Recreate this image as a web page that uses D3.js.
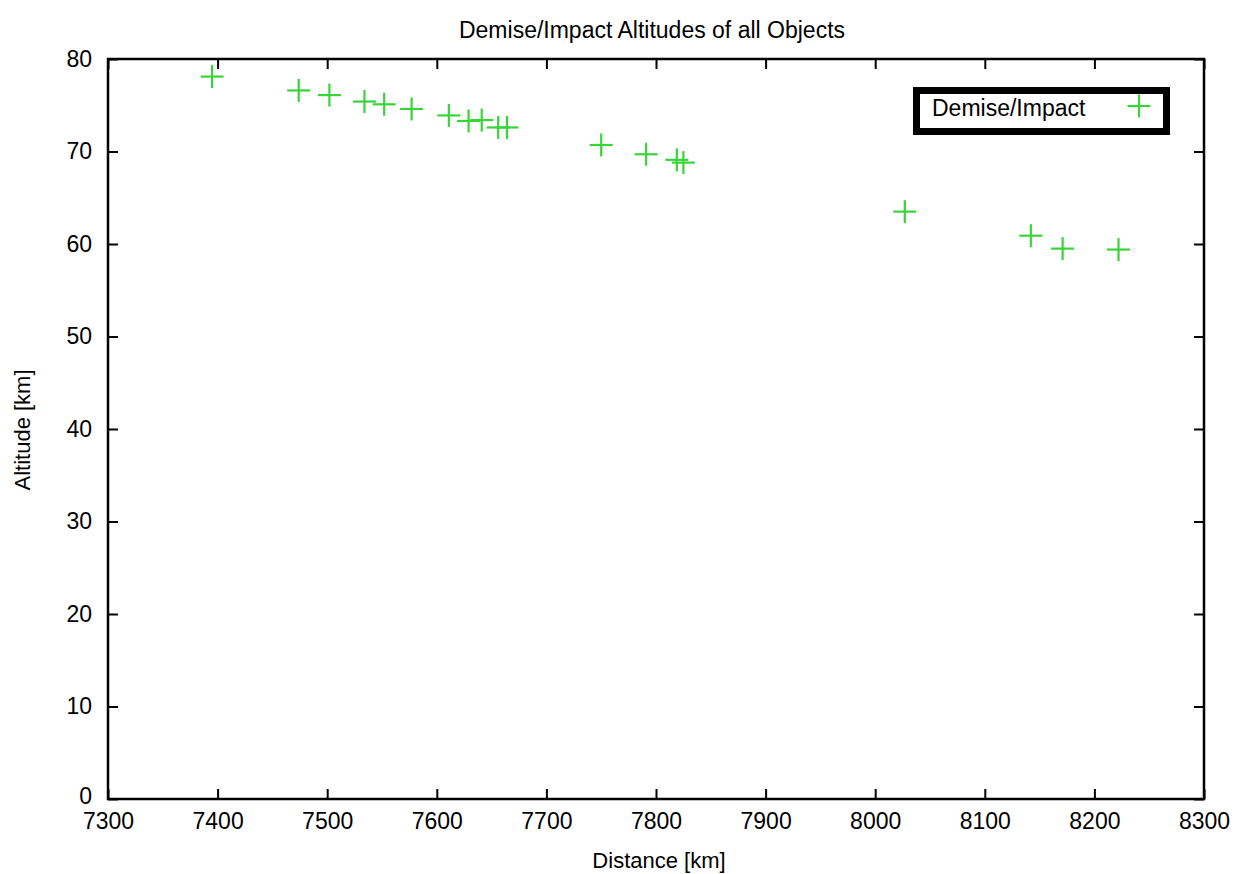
<!DOCTYPE html>
<html>
<head>
<meta charset="utf-8">
<script src="https://cdn.jsdelivr.net/npm/d3@7"></script>
<style>
body { margin: 0; background: #fff; }
text { font-family: "Liberation Sans", Arial, sans-serif; fill: #000; }
</style>
</head>
<body>
<svg id="chart" width="1247" height="874"></svg>
<script>
// demise / impact points
var distance = [7395, 7474, 7502, 7534, 7552, 7577, 7611, 7629, 7641, 7656, 7664,
                7750, 7791, 7819, 7825, 8027, 8142, 8171, 8222];
var altitude = [78.1, 76.6, 76.1, 75.4, 75.1, 74.6, 73.9, 73.3, 73.4, 72.6, 72.6,
                70.7, 69.7, 69.1, 68.8, 63.5, 60.9, 59.5, 59.4];
var xTicks = [7300, 7400, 7500, 7600, 7700, 7800, 7900, 8000, 8100, 8200, 8300];
var yTicks = [0, 10, 20, 30, 40, 50, 60, 70, 80];
var seriesName = "Demise/Impact";

var points = distance.map(function(d, i) {
    return { x: d, y: altitude[i] };
});

var svg = d3.select("#chart");
var plotLeft = 108, plotRight = 1204, plotTop = 59, plotBottom = 799;
var green = "#38d438";

var x = d3.scaleLinear().domain([7300, 8300]).range([plotLeft, plotRight]);
var y = d3.scaleLinear().domain([0, 80]).range([plotBottom, plotTop]);
var fmt = d3.format("d");

// ticks on all four sides, pointing inward
svg.append("g")
    .attr("transform", "translate(0," + plotBottom + ")")
    .call(d3.axisBottom(x).tickValues(xTicks).tickFormat(fmt).tickSize(-10).tickPadding(14))
    .call(function(g) {
        g.select(".domain").remove();
        g.selectAll("line").attr("stroke-width", 2);
        g.selectAll("text").style("font-size", "23px").attr("dy", "0.71em");
    });
svg.append("g")
    .attr("transform", "translate(0," + plotTop + ")")
    .call(d3.axisTop(x).tickValues(xTicks).tickSize(-10).tickFormat(""))
    .call(function(g) {
        g.select(".domain").remove();
        g.selectAll("line").attr("stroke-width", 2);
    });
svg.append("g")
    .attr("transform", "translate(" + plotLeft + ",0)")
    .call(d3.axisLeft(y).tickValues(yTicks).tickFormat(fmt).tickSize(-10).tickPadding(16))
    .call(function(g) {
        g.select(".domain").remove();
        g.selectAll("line").attr("stroke-width", 2);
        g.selectAll("text").style("font-size", "23px");
        // gnuplot nudges the lowest label up a little so it clears the x labels
        g.selectAll("text").filter(function(d) { return d === 0; }).attr("dy", "0.2em");
    });
svg.append("g")
    .attr("transform", "translate(" + plotRight + ",0)")
    .call(d3.axisRight(y).tickValues(yTicks).tickSize(-10).tickFormat(""))
    .call(function(g) {
        g.select(".domain").remove();
        g.selectAll("line").attr("stroke-width", 2);
    });

// frame
svg.append("rect")
    .attr("x", plotLeft).attr("y", plotTop)
    .attr("width", plotRight - plotLeft).attr("height", plotBottom - plotTop)
    .attr("fill", "none").attr("stroke", "#000").attr("stroke-width", 2.5);

// plus markers
var plus = function(sel, s) {
    sel.append("line").attr("x1", -s).attr("x2", s).attr("y1", 0).attr("y2", 0);
    sel.append("line").attr("x1", 0).attr("x2", 0).attr("y1", -s).attr("y2", s);
};

svg.append("g")
    .selectAll("g")
    .data(points)
    .enter()
    .append("g")
    .attr("transform", function(d) { return "translate(" + x(d.x) + "," + y(d.y) + ")"; })
    .attr("stroke", green)
    .attr("stroke-width", 2.2)
    .each(function() { plus(d3.select(this), 11.5); });

// legend
svg.append("rect")
    .attr("x", 916.5).attr("y", 90.5)
    .attr("width", 250).attr("height", 41)
    .attr("fill", "#fff").attr("stroke", "#000").attr("stroke-width", 7);
svg.append("text")
    .attr("x", 932).attr("y", 108)
    .attr("dy", "0.35em")
    .style("font-size", "23px")
    .text(seriesName);
svg.append("g")
    .attr("transform", "translate(1139,106)")
    .attr("stroke", green)
    .attr("stroke-width", 2.2)
    .call(plus, 11.5);

// titles
svg.append("text")
    .attr("x", 652).attr("y", 38)
    .attr("text-anchor", "middle")
    .style("font-size", "23px")
    .text("Demise/Impact Altitudes of all Objects");
svg.append("text")
    .attr("x", 659).attr("y", 868)
    .attr("text-anchor", "middle")
    .style("font-size", "22px")
    .text("Distance [km]");
svg.append("text")
    .attr("transform", "translate(30,430) rotate(-90)")
    .attr("text-anchor", "middle")
    .style("font-size", "22px")
    .text("Altitude [km]");
</script>
</body>
</html>
